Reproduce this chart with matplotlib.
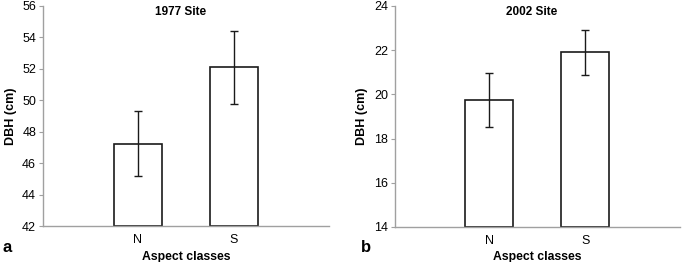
import matplotlib
matplotlib.use("Agg")
import matplotlib.pyplot as plt

plt.rcParams['font.family'] = ['Liberation Sans', 'DejaVu Sans']

categories = ["N", "S"]
dbh_1977 = [47.25, 52.1]
err_1977 = [2.07, 2.32]
dbh_2002 = [19.75, 21.9]
err_2002 = [1.22, 1.0]

fig = plt.figure(figsize=(6.85, 2.62), dpi=100)

panels = [
    dict(rect=[0.0628, 0.1374, 0.4175, 0.8397], vals=dbh_1977, errs=err_1977,
         ylim=(42, 56), ticks=range(42, 57, 2), title="1977 Site", tag="a", tagx=0.004),
    dict(rect=[0.5766, 0.1336, 0.4160, 0.8435], vals=dbh_2002, errs=err_2002,
         ylim=(14, 24), ticks=range(14, 25, 2), title="2002 Site", tag="b", tagx=0.527),
]

gray = "#a0a0a0"
for p in panels:
    ax = fig.add_axes(p["rect"])
    x = list(range(len(categories)))
    lo = p["ylim"][0]
    ax.bar(x, [v - lo for v in p["vals"]], bottom=lo, width=0.5, color="white",
           edgecolor="#1a1a1a", linewidth=1.2, zorder=2)
    ax.errorbar(x, p["vals"], yerr=p["errs"], fmt="none", ecolor="#1a1a1a",
                elinewidth=1.0, capsize=3, capthick=1.0, zorder=3)
    ax.set_xlim(-0.985, 1.99)
    ax.set_ylim(*p["ylim"])
    ax.set_yticks(list(p["ticks"]))
    ax.set_xticks(x)
    ax.set_xticklabels(categories)
    for s in ("top", "right"):
        ax.spines[s].set_visible(False)
    for s in ("left", "bottom"):
        ax.spines[s].set_color(gray)
        ax.spines[s].set_linewidth(1.0)
    ax.tick_params(axis="y", direction="out", length=3, color=gray, labelsize=9, pad=2)
    ax.tick_params(axis="x", length=0, labelsize=9, pad=6)
    ax.set_ylabel("DBH (cm)", fontsize=9, fontweight="bold", labelpad=4)
    ax.set_xlabel("Aspect classes", fontsize=8.8, fontweight="bold", labelpad=3)
    ax.text(0.48, 1.0, p["title"], transform=ax.transAxes, ha="center", va="top",
            fontsize=8.5, fontweight="bold")
    fig.text(p["tagx"], 0.025, p["tag"], fontsize=12, fontweight="bold", ha="left", va="bottom")

fig.savefig("out.png", dpi=100)
